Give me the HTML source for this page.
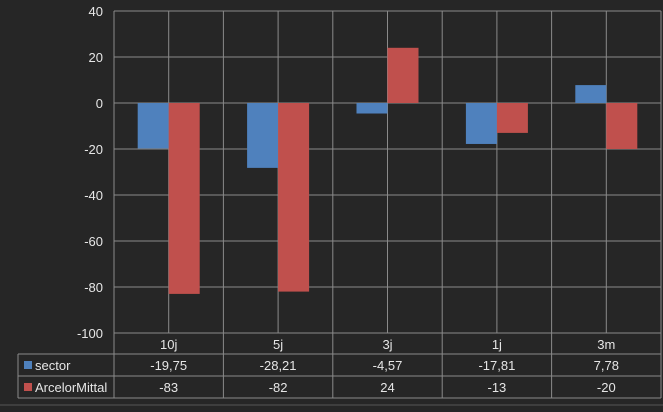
<!DOCTYPE html>
<html><head><meta charset="utf-8"><style>
body{margin:0;background:#262626;width:663px;height:407px;overflow:hidden;font-family:"Liberation Sans",sans-serif}
svg text{fill:#e6e6e6;font-size:13px}
</style></head><body>
<svg id="c" width="663" height="407"></svg>
<script>
const categories=["10j","5j","3j","1j","3m"];
const sector=[-19.75,-28.21,-4.57,-17.81,7.78];
const arcelor=[-83,-82,24,-13,-20];
const sectorLabels=["-19,75","-28,21","-4,57","-17,81","7,78"];
const arcelorLabels=["-83","-82","24","-13","-20"];
const ticks=[40,20,0,-20,-40,-60,-80,-100];
const NS="http://www.w3.org/2000/svg";
const svg=document.getElementById('c');
const L=114,R=661,T=11,B=333,cw=(R-L)/categories.length;
const y=v=>T+(40-v)/140*(B-T);
const xc=i=>L+cw*i+cw/2;
function el(t,a,p){const e=document.createElementNS(NS,t);for(const k in a)e.setAttribute(k,a[k]);(p||svg).appendChild(e);return e;}
const gc="#8a8a8a";
ticks.forEach(t=>{
 const l=el('line',{x1:L,x2:R,y1:y(t),y2:y(t),stroke:gc,'stroke-width':1});
 
 
 const tx=el('text',{x:103,y:y(t)+5,'text-anchor':'end'});tx.textContent=t;
 
 
});
for(let i=0;i<=categories.length;i++){
 el('line',{x1:L+cw*i,x2:L+cw*i,y1:T,y2:398,stroke:gc});
}
categories.forEach((c,i)=>{
 el('line',{x1:xc(i),x2:xc(i),y1:T,y2:B,stroke:gc});
});
[354,376,398].forEach(yy=>el('line',{x1:18,x2:R,y1:yy,y2:yy,stroke:gc}));
el('line',{x1:18,x2:18,y1:354,y2:398,stroke:gc});
el('line',{x1:0,x2:663,y1:405,y2:405,stroke:"#555"});
const bw=31;
categories.forEach((c,i)=>{
 const b=el('rect',{x:xc(i)-bw,y:Math.min(y(0),y(sector[i])),width:bw,height:Math.abs(y(sector[i])-y(0)),fill:'#4f81bd'});
 
 
 const r=el('rect',{x:xc(i),y:Math.min(y(0),y(arcelor[i])),width:bw,height:Math.abs(y(arcelor[i])-y(0)),fill:'#c0504d'});
 
 
 const t1=el('text',{x:xc(i),y:349,'text-anchor':'middle'});t1.textContent=c;
 
 
 const t2=el('text',{x:xc(i),y:370,'text-anchor':'middle'});t2.textContent=sectorLabels[i];
 
 
 const t3=el('text',{x:xc(i),y:392,'text-anchor':'middle'});t3.textContent=arcelorLabels[i];
 
 
});
el('rect',{x:24,y:361,width:8,height:8,fill:'#4f81bd'});
const s1=el('text',{x:35,y:370});s1.textContent="sector";


el('rect',{x:24,y:383,width:8,height:8,fill:'#c0504d'});
const s2=el('text',{x:35,y:392});s2.textContent="ArcelorMittal";


</script>
</body></html>
